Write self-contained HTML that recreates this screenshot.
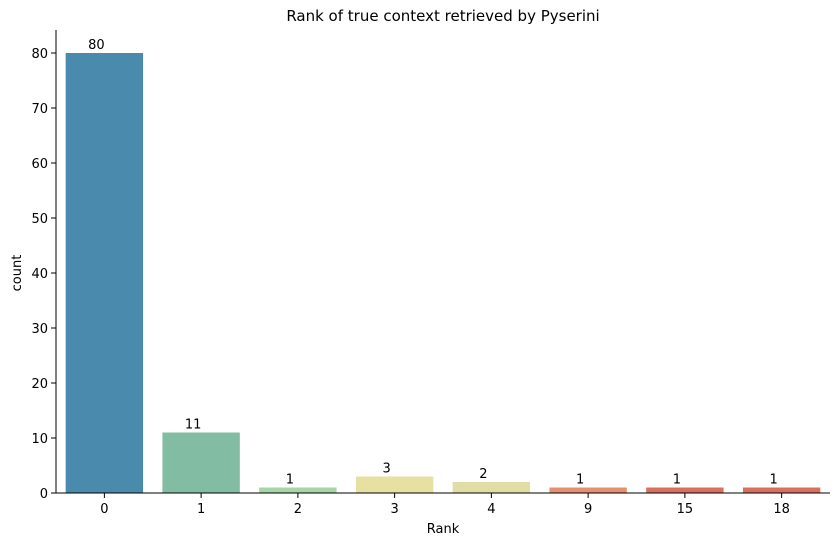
<!DOCTYPE html>
<html><head><meta charset="utf-8"><style>
body{margin:0;background:#fff;}
svg text{font-family:"DejaVu Sans","Liberation Sans",sans-serif;font-size:13px;fill:#000;}
</style></head><body>
<svg width="836" height="546" xmlns="http://www.w3.org/2000/svg">
<text x="443" y="21" text-anchor="middle" style="font-size:15px">Rank of true context retrieved by Pyserini</text>
<g id="yaxis"></g>
<g id="bars"></g>
<g id="xaxis"></g>
<text x="443" y="533" text-anchor="middle">Rank</text>
<text transform="translate(21,273) rotate(-90)" text-anchor="middle">count</text>
</svg>
<script>
const categories=["0","1","2","3","4","9","15","18"];
const counts=[80,11,1,3,2,1,1,1];
const yTicks=[0,10,20,30,40,50,60,70,80];
const colors=["#4a8aad","#82bca3","#a8d5a8","#e6e0a3","#e1dda6","#e59070","#d8705f","#d8705f"];
const NS="http://www.w3.org/2000/svg";
const L=56,R=830,B=493,T=53;
const y=v=>B-(v/80)*(B-T);
const step=(R-L)/categories.length;
const x=i=>L+step*(i+0.5);
function mk(tag,attrs,parent,txt){const e=document.createElementNS(NS,tag);for(const k in attrs)e.setAttribute(k,attrs[k]);if(txt!==undefined)e.textContent=txt;parent.appendChild(e);return e;}
const ya=document.getElementById('yaxis'),xa=document.getElementById('xaxis'),bg=document.getElementById('bars');
yTicks.forEach(t=>{
  const l=mk('line',{x1:L-5,x2:L,y1:y(t),y2:y(t),stroke:'#000'},ya);
  
  
  const tx=mk('text',{x:L-8,y:y(t)+5,'text-anchor':'end'},ya,t);
  
  
});
categories.forEach((c,i)=>{
  const w=step*0.8;
  const r=mk('rect',{x:x(i)-w/2,y:y(counts[i]),width:w,height:B-y(counts[i]),fill:colors[i]},bg);
  
  
  const v=mk('text',{x:x(i)-8,y:y(counts[i])-4,'text-anchor':'middle'},bg,counts[i]);
  
  
  const tk=mk('line',{x1:x(i),x2:x(i),y1:B,y2:B+5,stroke:'#000'},xa);
  
  
  const tl=mk('text',{x:x(i),y:B+20,'text-anchor':'middle'},xa,c);
  
  
});
const sl=mk('line',{x1:L,x2:L,y1:30,y2:B,stroke:'#000'},ya);


const sb=mk('line',{x1:L,x2:R,y1:B,y2:B,stroke:'#000'},xa);


</script>
</body></html>
